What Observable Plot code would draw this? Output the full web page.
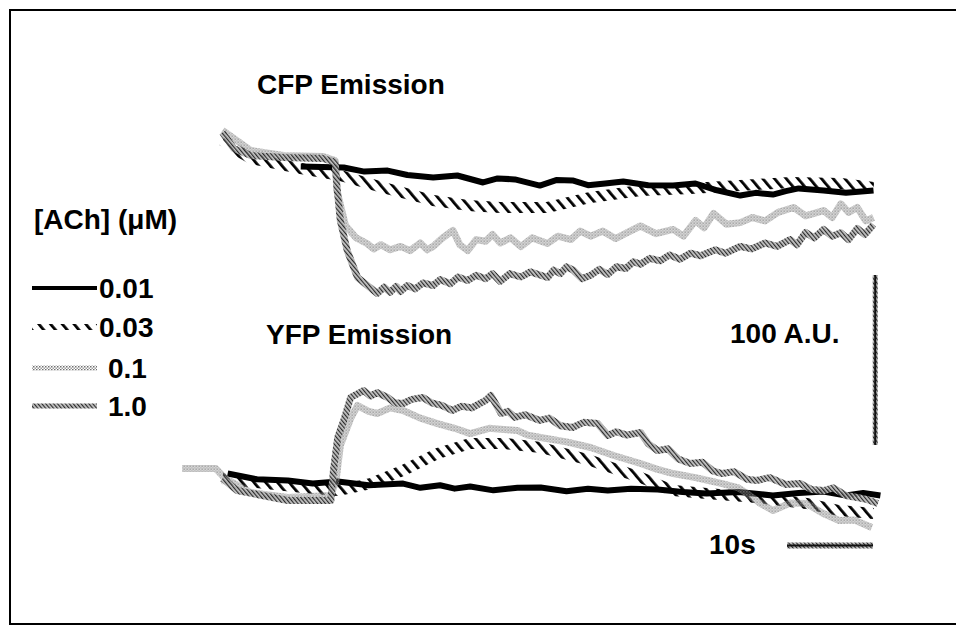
<!DOCTYPE html>
<html>
<head>
<meta charset="utf-8">
<script src="https://cdn.jsdelivr.net/npm/d3@7"></script>
<script src="https://cdn.jsdelivr.net/npm/@observablehq/plot@0.6"></script>
<style>
  html, body { margin: 0; padding: 0; background: #fff; }
  #chart { width: 956px; height: 625px; position: relative; overflow: hidden; }
</style>
</head>
<body>
<div id="chart"></div>
<script>
// ---- Data: time (s) and emission (arbitrary units, A.U.) ----
const concentrations = ["0.01", "0.03", "0.1", "1.0"];
const legendTitle = "[ACh] (\u03bcM)";
const panelLabels = ["CFP Emission", "YFP Emission"];
const scaleBarAU = 100;   // vertical scale bar, A.U.
const scaleBarTime = 10;  // horizontal scale bar, s

// CFP emission traces [time s, A.U.]
const cfp_0_01 = [[9.1,270],[14.1,269.4],[16.5,267],[19.2,267.6],[21.5,265],[24.5,263.5],[27.3,264.7],[30.3,260.6],[32.0,263],[34.0,262.4],[36.9,258.8],[38.8,262],[40.7,261.8],[42.5,259],[44.5,260],[46.6,261.2],[49.5,259],[52.4,258.8],[55.0,260],[57.5,256],[60.2,252.9],[62.0,254.5],[64.0,253.5],[65.5,255.5],[67.0,257.1],[69.9,255.9],[72.5,254.5],[75.7,255.9]];
const cfp_0_03 = [[0,285.3],[1.7,279.4],[3.3,274.7],[9.1,268.8],[13.7,264.7],[18.7,257.6],[24.5,250],[28.5,247.1],[32.3,245.9],[37.8,245.9],[42.8,251.8],[48.6,255.9],[54.4,257.1],[60.2,258.8],[66.0,260.6],[71.9,260],[75.7,257.6]];
const cfp_0_1 = [[0,291.2],[3.3,279.4],[7.1,276.5],[11.7,275.9],[13.1,273.5],[13.3,255.9],[14.3,235.3],[15.5,228.2],[16.8,224.7],[17.6,221.5],[18.4,224],[19.5,221],[20.7,223],[21.8,220.5],[23.0,225],[23.8,221],[24.5,223],[25.6,228],[26.8,232.4],[27.6,224],[28.5,220.6],[29.5,227],[30.6,226],[31.4,230],[32.3,225],[33.5,228],[34.7,222.9],[36.0,228],[37.8,224.7],[39.0,229],[40.5,227],[41.6,232],[42.8,229],[44.2,232],[45.7,227.6],[47.0,231],[48.6,235],[50.4,230.5],[52.4,233],[53.6,229],[55.0,238.2],[56.0,234],[57.1,242.4],[58.6,236],[60.2,237],[61.6,240],[63.1,238],[64.6,243],[66.4,245.9],[67.8,241],[69.9,244.1],[70.9,240],[71.9,248],[72.8,243],[73.8,245.9],[74.8,238],[75.7,240]];
const cfp_1_0 = [[0,290],[1.3,280.6],[3.3,276.5],[7.1,275.3],[11.7,274.7],[13.1,272.4],[13.3,258.8],[13.7,238.2],[14.5,220.6],[15.7,204.7],[18.0,195.3],[18.8,199],[19.5,196],[20.2,199.5],[20.7,196.5],[21.5,200],[22.4,198],[23.3,201.5],[24.5,200],[25.3,203.5],[26.5,201],[27.4,205],[28.5,202.9],[29.5,206],[30.6,204],[31.4,207],[32.3,202.4],[33.4,207],[34.7,205],[35.8,208],[37.8,204.7],[38.5,209],[39.3,207],[40.0,211],[40.8,209],[41.8,204],[42.8,206],[43.8,209.5],[44.8,206.5],[45.8,211],[46.9,210],[47.8,214],[48.6,212.5],[49.7,216],[50.9,214.5],[52.0,218],[53.2,215.5],[54.4,219],[55.6,217.5],[57.3,221],[58.5,219],[60.2,223],[61.5,221.5],[63.1,225],[64.5,223],[66.0,227],[66.8,224],[67.8,231.2],[68.8,228],[69.9,233],[70.9,229],[71.9,231],[72.8,227],[73.8,233.5],[74.7,230],[75.7,235.9]];

// YFP emission traces [time s, A.U.]
const yfp_0_01 = [[0.6,89.4],[4.0,86],[7.6,85.3],[10.5,83.5],[13.4,84.7],[17.0,82.5],[21.0,83.5],[23.0,81],[25.3,82.5],[27.0,80.5],[28.8,81.8],[31.5,79.5],[34.3,81],[37.0,81.2],[40.0,79],[42.5,80.5],[44.8,79.4],[47.5,80.5],[50.6,80],[53.5,78.5],[56.3,77.6],[60.0,78.5],[64.0,76.5],[67.0,78],[69.9,78.8],[72.5,76.5],[74.5,78],[76.5,76.5]];
const yfp_0_03 = [[0,86.5],[1.7,85.3],[9.4,81.2],[13.4,79.4],[17.2,83.5],[21.0,91.2],[25.0,101.2],[28.8,107.1],[32.7,107.1],[37.0,104.7],[42.8,97.1],[48.6,87.1],[52.4,79.4],[56.3,77.6],[62.1,75.3],[67.9,71.8],[71.7,67.6],[75.7,65.9]];
const yfp_0_1 = [[-4.7,92.4],[-0.8,92.4],[0.3,86.5],[3.3,78.2],[7.6,75.3],[12.6,76.5],[13.2,85.3],[13.7,105.9],[14.9,121.8],[15.7,129.4],[17.0,126],[18.0,124.7],[19.5,128],[21.0,126.5],[23.0,122],[25.0,118.8],[27.0,116],[28.8,112.9],[31.0,116],[34.3,114.7],[35.5,112],[37.0,110.6],[40.0,108],[42.8,104.7],[45.5,100],[48.6,95.3],[50.5,92],[52.4,89.4],[55.0,87],[58.1,83.5],[60.0,81],[61.3,76.5],[62.5,72],[64.0,67.6],[66.0,72],[67.9,71.8],[69.8,66],[71.7,61.8],[73.5,62],[75.5,57.6]];
const yfp_1_0 = [[0,86.5],[1.7,79.4],[7.6,73.5],[12.6,73.5],[12.9,91.2],[13.4,110.6],[14.1,120.6],[14.9,134.1],[16.4,138.2],[17.2,135],[18.0,137],[19.2,134.1],[20.0,131],[21.0,130.6],[22.0,133],[23.3,134.1],[24.3,131],[25.5,129.5],[26.7,126.5],[27.8,129],[29.0,128],[30.6,132.4],[31.2,135.3],[32.4,124.7],[33.2,126],[34.0,122.4],[35.2,124],[36.9,120.6],[38.0,122],[39.3,117.5],[40.7,116.5],[42.0,119.5],[43.6,118.8],[44.8,111.8],[45.8,114],[47.0,112],[48.6,113.5],[49.5,107],[50.6,102.9],[51.8,104],[53.0,98],[54.4,95.3],[55.8,96],[57.0,91],[58.1,89.4],[59.5,90.5],[61.0,86],[62.1,85.3],[63.6,87],[65.5,83],[67.2,83.5],[68.5,80],[69.9,79.4],[71.0,81],[72.5,76.5],[73.8,75.3],[75.0,74],[76.2,71.8]];

// scale bar anchors (data coordinates)
const auBarAt = {t: 75.9, from: 105.9};
const timeBarAt = {from: 65.7, au: 47.1};

// ---- Build ----
const styles = {
  "0.01": {stroke: "#000", strokeWidth: 6},
  "0.03": {stroke: "url(#hatch)", strokeWidth: 11},
  "0.1":  {stroke: "url(#stip)", strokeWidth: 7},
  "1.0":  {stroke: "url(#fine)", strokeWidth: 7}
};
const traces = [
  ["0.03", cfp_0_03], ["0.01", cfp_0_01], ["0.1", cfp_0_1], ["1.0", cfp_1_0],
  ["0.03", yfp_0_03], ["0.01", yfp_0_01], ["0.1", yfp_0_1], ["1.0", yfp_1_0]
];

const W = 956, H = 625;
const pxPerS = 8.6, pxPerAU = 1.7, t0px = 222;

const plot = Plot.plot({
  width: W, height: H,
  marginTop: 0, marginRight: 0, marginBottom: 0, marginLeft: 0,
  x: {domain: [-t0px / pxPerS, (W - t0px) / pxPerS], axis: null},
  y: {domain: [0, H / pxPerAU], axis: null},
  marks: [
    ...traces.map(([c, d]) => Plot.line(d, {
      x: d => d[0], y: d => d[1],
      stroke: styles[c].stroke, strokeWidth: styles[c].strokeWidth,
      strokeLinejoin: "round", strokeLinecap: "butt"
    })),
    // 100 A.U. vertical scale bar
    Plot.ruleX([auBarAt], {x: "t", y1: "from", y2: d => d.from + scaleBarAU, stroke: "url(#fine)", strokeWidth: 5}),
    Plot.ruleX([auBarAt], {x: "t", y1: "from", y2: d => d.from + scaleBarAU, stroke: "#111", strokeWidth: 2}),
    // 10 s horizontal scale bar
    Plot.ruleY([timeBarAt], {y: "au", x1: "from", x2: d => d.from + scaleBarTime, stroke: "url(#fine)", strokeWidth: 6}),
    Plot.ruleY([timeBarAt], {y: "au", x1: "from", x2: d => d.from + scaleBarTime, stroke: "#111", strokeWidth: 2})
  ]
});
document.getElementById("chart").appendChild(plot);

const svg = d3.select(plot);
svg.insert("defs", ":first-child").html(`
  <pattern id="hatch" patternUnits="userSpaceOnUse" width="9" height="9" patternTransform="rotate(-40)">
    <rect x="0" y="0" width="2.8" height="9" fill="#000"/>
  </pattern>
  <pattern id="stip" patternUnits="userSpaceOnUse" width="3" height="3">
    <rect x="0" y="0" width="1.5" height="1.5" fill="#707070"/>
    <rect x="1.5" y="1.5" width="1.5" height="1.5" fill="#a0a0a0"/>
  </pattern>
  <pattern id="fine" patternUnits="userSpaceOnUse" width="3" height="3" patternTransform="rotate(-40)">
    <rect x="0" y="0" width="1.5" height="3" fill="#2a2a2a"/>
    <rect x="1.5" y="0" width="1.5" height="3" fill="#c4c4c4"/>
  </pattern>
`);

// frame
svg.append("path").attr("d", `M${W + 5},10 H10 V624 H${W + 5}`)
  .attr("fill", "none").attr("stroke", "#000").attr("stroke-width", 2);

const font = {family: "'Liberation Sans', Arial, Helvetica, sans-serif", size: 28, weight: "bold"};
function label(txt, x, y) {
  svg.append("text").attr("x", x).attr("y", y).text(txt)
    .attr("text-anchor", "start")
    .attr("font-family", font.family).attr("font-size", font.size)
    .attr("font-weight", font.weight).attr("fill", "#000");
}
label(panelLabels[0], 257, 94);
label(panelLabels[1], 266, 344);
label(scaleBarAU + " A.U.", 730, 343);
label(scaleBarTime + "s", 709, 554);
label(legendTitle, 34, 229);

// legend
const legendRows = [
  {y: 288, tx: 99},
  {y: 327, tx: 99},
  {y: 368, tx: 108},
  {y: 406, tx: 108}
];
legendRows.forEach((r, i) => {
  const s = styles[concentrations[i]];
  svg.append("line").attr("x1", 32).attr("x2", 97).attr("y1", r.y).attr("y2", r.y)
    .attr("stroke", s.stroke).attr("stroke-width", i === 0 ? 4 : (i === 1 ? 6 : 5));
  label(concentrations[i], r.tx, r.y + 10);
});
</script>
</body>
</html>
